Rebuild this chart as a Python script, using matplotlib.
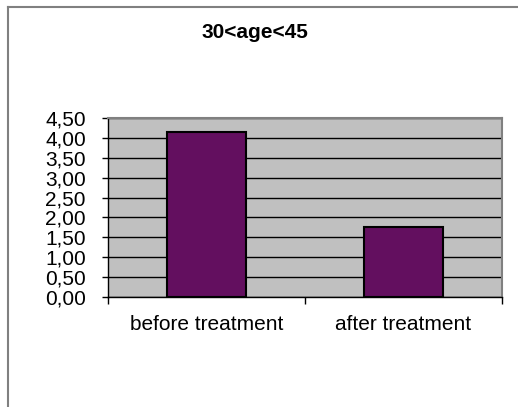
import matplotlib
matplotlib.use("Agg")
import numpy as np
from matplotlib import pyplot as plt
from matplotlib.lines import Line2D

categories = ["before treatment", "after treatment"]
values = [4.15, 1.75]
yticks = [0.0, 0.5, 1.0, 1.5, 2.0, 2.5, 3.0, 3.5, 4.0, 4.5]
ytick_labels = ["%.2f" % v for v in yticks]
ytick_labels = [s.replace(".", ",") for s in ytick_labels]

plt.rcParams['font.family'] = ['Liberation Sans', 'DejaVu Sans']

fig = plt.figure(figsize=(5.18, 4.07), dpi=100)
ax = fig.add_axes([108 / 518, 110 / 407, 394 / 518, 179 / 407])
ax.set_facecolor('#C0C0C0')

x = np.arange(len(categories))
ax.bar(x, values, width=0.4, color='#630F5F', edgecolor='black', linewidth=1.5, zorder=3)

ax.set_xlim(-0.5, 1.5)
ax.set_ylim(0, 4.5)
ax.set_yticks(yticks)
ax.set_yticklabels(ytick_labels, fontsize=15)
ax.yaxis.grid(True, color='black', linewidth=1, zorder=1)
ax.set_axisbelow(True)

ax.set_xticks(x)
ax.set_xticklabels(categories, fontsize=15)
ax.set_xticks([-0.5, 0.5, 1.5], minor=True)
ax.tick_params(axis='x', which='major', length=0, pad=13)
ax.tick_params(axis='x', which='minor', length=5, width=1, direction='out')
ax.tick_params(axis='y', length=4, width=1, direction='out', pad=12)

for side in ['top', 'right']:
    ax.spines[side].set_color('#808080')
    ax.spines[side].set_linewidth(1.5)
for side in ['left', 'bottom']:
    ax.spines[side].set_color('black')
    ax.spines[side].set_linewidth(1)

fig.text(0.493, 1 - 33 / 407, "30<age<45", ha='center', va='center',
         fontsize=15, fontweight='bold')

# outer chart frame (only top and left visible)
fig.add_artist(Line2D([8 / 518, 8 / 518], [0, 1 - 7 / 407], color='#808080',
                      linewidth=1.5, transform=fig.transFigure))
fig.add_artist(Line2D([8 / 518, 1], [1 - 7 / 407, 1 - 7 / 407], color='#808080',
                      linewidth=1.5, transform=fig.transFigure))

fig.savefig('out.png', dpi=100)
